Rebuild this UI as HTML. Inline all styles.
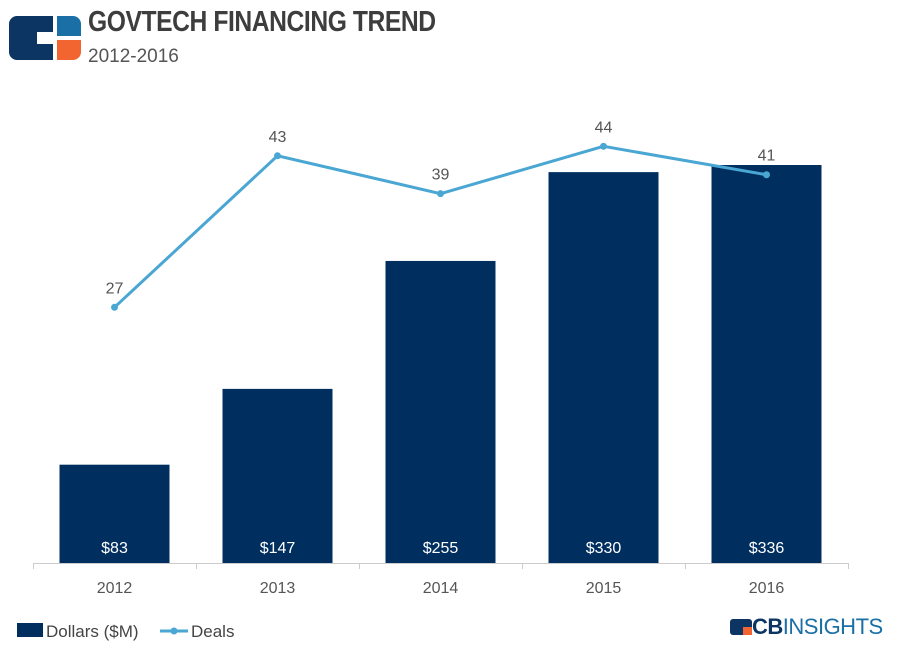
<!DOCTYPE html>
<html><head><meta charset="utf-8"><style>
body{margin:0;background:#fff;width:899px;height:654px;overflow:hidden;font-family:"Liberation Sans",sans-serif;position:relative}
.t{position:absolute;left:88px;top:6px;font-size:29px;font-weight:bold;color:#3d3d3d;transform:scaleX(0.85);transform-origin:left;letter-spacing:-0.5px}
.s{position:absolute;left:88px;top:46px;font-size:19px;color:#555}
</style></head><body>
<svg style="position:absolute;left:9px;top:16px" width="72" height="44" viewBox="0 0 72 44">
<path d="M8 0H44V16H28V28H44V44H8A8 8 0 0 1 0 36V8A8 8 0 0 1 8 0Z" fill="#0d3563"/>
<path d="M48 0H64A8 8 0 0 1 72 8V20H48Z" fill="#1a6fa6"/>
<path d="M48 24H72V36A8 8 0 0 1 64 44H48Z" fill="#f26531"/>
</svg>
<div class="t">GOVTECH FINANCING TREND</div>
<div class="s">2012-2016</div>
<svg id="c" style="position:absolute;left:0;top:0" width="899" height="654"></svg>
<div style="position:absolute;left:730px;top:614px;font-size:22px;color:#0d3563;letter-spacing:-0.5px">
<span style="display:inline-block;width:22px;height:16px;background:#0d3563;border-radius:3px;vertical-align:-1px;position:relative"><span style="position:absolute;right:0;bottom:0;width:9px;height:8px;background:#f26531"></span></span><b>CB</b><span style="color:#1a6fa6">INSIGHTS</span></div>
<script>
const categories=["2012","2013","2014","2015","2016"];
const dollars=[83,147,255,330,336];
const dollarLabels=["$83","$147","$255","$330","$336"];
const deals=[27,43,39,44,41];
const NS="http://www.w3.org/2000/svg",svg=document.getElementById('c');
const base=563,left=33,band=163,bw=110;
const yD=v=>base-v*1.1845, yN=v=>base-v*9.47, xC=i=>left+band*i+band/2;
function el(t,a,p){const e=document.createElementNS(NS,t);for(const k in a)e.setAttribute(k,a[k]);(p||svg).appendChild(e);return e;}
categories.forEach((c,i)=>{
 const r=el('rect',{x:xC(i)-bw/2,y:yD(dollars[i]),width:bw,height:base-yD(dollars[i]),fill:'#002f5f'});
 
 
 const l=el('text',{x:xC(i),y:base-10,'text-anchor':'middle','font-size':16,fill:'#fff','font-family':'Liberation Sans'});l.textContent=dollarLabels[i];
 
 
 const x=el('text',{x:xC(i),y:593,'text-anchor':'middle','font-size':16,fill:'#555','font-family':'Liberation Sans'});x.textContent=c;
 
 
});
el('line',{x1:left,x2:left+band*5,y1:base+0.5,y2:base+0.5,stroke:'#ccc'});
for(let i=0;i<=5;i++)el('line',{x1:left+band*i+0.5,x2:left+band*i+0.5,y1:base,y2:base+6,stroke:'#ccc'});
const ln=el('polyline',{points:deals.map((d,i)=>xC(i)+','+yN(d)).join(' '),fill:'none',stroke:'#4aa6d2','stroke-width':3});


deals.forEach((d,i)=>{
 const p=el('circle',{cx:xC(i),cy:yN(d),r:3.5,fill:'#4aa6d2'});
 
 
 const t=el('text',{x:xC(i),y:yN(d)-14,'text-anchor':'middle','font-size':16,fill:'#555','font-family':'Liberation Sans'});t.textContent=d;
 
 
});
const g=el('g',{});


el('rect',{x:17,y:623,width:26,height:14,fill:'#002f5f'},g);
el('text',{x:46,y:637,'font-size':17,fill:'#444','font-family':'Liberation Sans'},g).textContent='Dollars ($M)';
el('line',{x1:160,x2:188,y1:631,y2:631,stroke:'#4aa6d2','stroke-width':3},g);
el('circle',{cx:174,cy:631,r:3.5,fill:'#4aa6d2'},g);
el('text',{x:191,y:637,'font-size':17,fill:'#444','font-family':'Liberation Sans'},g).textContent='Deals';
</script>
</body></html>
